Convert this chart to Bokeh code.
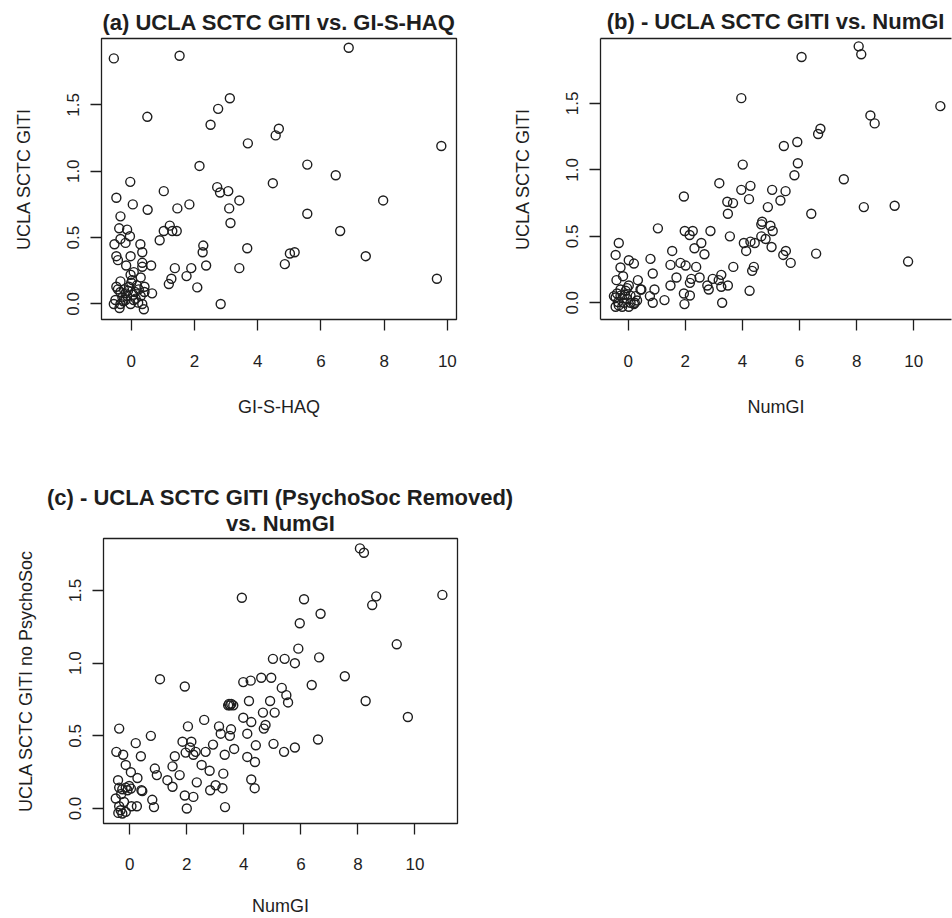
import math
from bokeh.plotting import figure
from bokeh.layouts import column, row
from bokeh.models import Range1d, FixedTicker, LinearAxis, Title, NumeralTickFormatter
from bokeh.embed import file_html
from bokeh.resources import INLINE

# ---------------- data ----------------
# (a) UCLA SCTC GITI vs. GI-S-HAQ
a_x = [-0.55, 1.53, 6.88, 3.12, 2.75, 0.51, 2.51, 4.67, 4.57, 3.69, 9.81, 2.16, 5.57, 6.47, 4.48,
       -0.03, 1.03, 2.72, 2.81, 3.07, 3.42, 7.97, -0.47, 0.05, 0.52, 1.46, 1.84, 3.10, 3.14, 5.57,
       6.61, -0.34, 1.22, 1.03, 1.30, 1.44, 0.90, -0.38, -0.13, -0.34, -0.04, -0.53, -0.18, 0.29,
       2.28, 2.26, 3.67, 0.35, -0.47, -0.02, -0.42, -0.16, 0.35, 0.35, 0.63, 2.37, 1.90, 1.38, 3.42,
       7.42, 5.02, 5.17, 4.86, 9.67, 1.75, 1.27, 1.19, 2.09, 2.83,
       -0.02, 0.08, 0.30, 0.03, -0.34, -0.47, 0.00, 0.42, 0.66, -0.34, -0.18, 0.06, 0.24, 0.42,
       -0.50, -0.34, -0.13, -0.02, 0.22, 0.35, 0.40, -0.37, -0.55, 0.14, -0.23, -0.07, 0.08, -0.18,
       -0.28, -0.10, 0.18, 0.30, -0.42, 0.12, -0.25]
a_y = [1.85, 1.87, 1.93, 1.55, 1.47, 1.41, 1.35, 1.32, 1.27, 1.21, 1.19, 1.04, 1.05, 0.97, 0.91,
       0.92, 0.85, 0.88, 0.84, 0.85, 0.78, 0.78, 0.80, 0.75, 0.71, 0.72, 0.75, 0.72, 0.61, 0.68,
       0.55, 0.66, 0.59, 0.55, 0.55, 0.55, 0.48, 0.57, 0.56, 0.49, 0.51, 0.45, 0.46, 0.45,
       0.44, 0.39, 0.42, 0.39, 0.36, 0.36, 0.33, 0.29, 0.31, 0.28, 0.29, 0.29, 0.27, 0.27, 0.27,
       0.36, 0.38, 0.39, 0.30, 0.19, 0.21, 0.19, 0.15, 0.125, 0.00,
       0.22, 0.24, 0.20, 0.18, 0.17, 0.13, 0.16, 0.13, 0.08, 0.09, 0.08, 0.07, 0.11, 0.09,
       0.03, 0.00, 0.06, 0.00, 0.01, 0.00, -0.04, -0.03, 0.00, 0.04, 0.11, 0.13, 0.03, 0.03,
       0.05, 0.10, 0.14, 0.06, 0.11, 0.09, 0.02]

# (b) UCLA SCTC GITI vs. NumGI
b_x = [6.07, 8.07, 8.16, 3.96, 10.93, 8.48, 8.63, 6.73, 6.65, 5.92, 5.45, 4.01, 5.94, 5.82, 7.55,
       3.19, 3.96, 4.28, 4.23, 5.04, 5.51, 5.33, 4.89, 8.25, 9.33, 3.47, 3.67, 3.49, 6.41, 1.95,
       1.04, 1.98, 2.15, 2.26, 2.88, 3.56, 2.56, 2.32, 2.67, 4.69, 4.66, 4.98, 5.06, 4.66, 4.81,
       5.02, 4.05, 4.28, 4.43, 4.13, 5.52, 5.43, 5.69, 6.58, 9.80, -0.33, -0.44, 0.02, 0.20, -0.27,
       -0.18, -0.41, 0.34, 0.78, 0.86, 1.54, 1.48, 1.83, 2.01, 2.38, 1.69, 2.21, 2.16, 2.50, 1.48,
       0.92, 0.76, 0.86, 1.27, 1.95, 2.16, 1.97, 2.77, 2.82, 2.96, 3.17, 3.26, 3.26, 3.49, 3.29,
       3.68, 4.25, 4.40, 4.34, 0.46, 0.26, 0.23,
       -0.44, -0.27, -0.09, -0.36, -0.21, -0.44, -0.04, 0.08, 0.20, 0.02, 0.31, 0.43, -0.04, -0.27,
       -0.15, -0.39, 0.02, -0.50, -0.33, 0.08, -0.12]
b_y = [1.85, 1.93, 1.87, 1.54, 1.48, 1.41, 1.35, 1.31, 1.27, 1.21, 1.18, 1.04, 1.05, 0.96, 0.93,
       0.90, 0.85, 0.88, 0.78, 0.85, 0.84, 0.77, 0.72, 0.72, 0.73, 0.76, 0.75, 0.67, 0.67, 0.80,
       0.56, 0.54, 0.51, 0.54, 0.54, 0.50, 0.45, 0.41, 0.365, 0.61, 0.59, 0.58, 0.54, 0.50, 0.48,
       0.42, 0.45, 0.46, 0.45, 0.39, 0.39, 0.36, 0.30, 0.37, 0.31, 0.45, 0.36, 0.32, 0.295, 0.265,
       0.20, 0.17, 0.17, 0.33, 0.22, 0.39, 0.285, 0.30, 0.28, 0.27, 0.19, 0.18, 0.15, 0.19, 0.13,
       0.10, 0.05, 0.00, 0.02, 0.07, 0.055, -0.01, 0.13, 0.10, 0.18, 0.17, 0.21, 0.12, 0.13, 0.00,
       0.27, 0.09, 0.27, 0.24, 0.10, 0.05, 0.00,
       0.04, 0.10, 0.09, 0.005, -0.03, -0.03, 0.03, 0.054, -0.01, -0.03, 0.017, 0.10, 0.11, 0.054,
       0.00, 0.07, 0.13, 0.05, -0.02, 0.00, 0.06]

# (c) UCLA SCTC GITI (PsychoSoc Removed) vs. NumGI
c_x = [8.07, 8.21, 3.93, 6.11, 10.96, 8.64, 8.50, 6.69, 5.96, 5.91, 9.36, 5.02, 5.43, 5.79, 6.64,
       7.54, 4.61, 4.96, 3.98, 4.24, 5.33, 6.38, 1.06, 1.93, 5.49, 5.55, 8.27, 9.75, 3.48, 3.52,
       3.56, 3.63, 3.45, 4.18, 4.92, 4.67, 5.08, 3.98, 4.26, 2.61, 3.13, 3.19, 3.51, 3.55, 4.12,
       4.76, 4.70, 2.04, 1.85, 2.16, 2.11, 1.96, 2.23, 2.31, 2.92, 3.66, 3.33, 2.66, 2.52, 2.80,
       1.50, 1.58, 1.75, 1.32, 1.50, 2.35, 2.82, 3.01, 3.25, 3.28, 1.93, 2.23, 2.00, 3.34, 4.39,
       4.12, 4.42, 4.26, 4.38, 5.04, 5.41, 5.79, 6.60, 0.74, 0.88, 0.95, 0.79, 0.85, 0.41, 0.39,
       0.21, 0.27, 0.04, -0.14, -0.23, -0.47, -0.37, -0.41,
       -0.37, -0.26, -0.14, -0.02, -0.08, 0.04, -0.49, -0.20, -0.37, -0.32, -0.14, -0.26, 0.06,
       0.25, 0.44, -0.30, -0.40]
c_y = [1.79, 1.76, 1.45, 1.44, 1.47, 1.46, 1.40, 1.34, 1.275, 1.10, 1.13, 1.03, 1.03, 1.00, 1.04,
       0.91, 0.90, 0.90, 0.87, 0.88, 0.83, 0.85, 0.89, 0.84, 0.78, 0.73, 0.74, 0.63, 0.72, 0.71,
       0.72, 0.71, 0.71, 0.74, 0.74, 0.66, 0.66, 0.625, 0.595, 0.61, 0.565, 0.515, 0.50, 0.545, 0.515,
       0.575, 0.55, 0.565, 0.46, 0.46, 0.42, 0.385, 0.37, 0.39, 0.44, 0.41, 0.37, 0.39, 0.30, 0.26,
       0.29, 0.36, 0.23, 0.195, 0.15, 0.18, 0.126, 0.16, 0.14, 0.24, 0.09, 0.08, 0.00, 0.01, 0.32,
       0.355, 0.435, 0.20, 0.14, 0.445, 0.39, 0.42, 0.475, 0.50, 0.275, 0.23, 0.06, 0.01, 0.126, 0.36,
       0.45, 0.21, 0.25, 0.30, 0.37, 0.39, 0.55, 0.195,
       0.144, 0.133, 0.144, 0.155, 0.126, 0.137, 0.069, 0.045, 0.016, -0.012, -0.023, -0.034, 0.016,
       0.016, 0.12, 0.10, -0.03]

x_ticks = [0, 2, 4, 6, 8, 10]
y_ticks = [0.0, 0.5, 1.0, 1.5]
y_tick_format = "0.0"

FONT = "Liberation Sans"
INK = "#1e1e1e"


def style_axis(ax, ticks, vertical=False, label_standoffs=(24, 27)):
    ax.ticker = FixedTicker(ticks=ticks, minor_ticks=[])
    ax.major_tick_out = 11
    ax.major_tick_in = 0
    ax.minor_tick_out = 0
    ax.minor_tick_in = 0
    ax.major_tick_line_color = INK
    ax.major_tick_line_width = 1.3
    ax.axis_line_color = None
    ax.major_label_text_font = FONT
    ax.major_label_text_font_size = "17px"
    ax.major_label_text_color = INK
    ax.axis_label_text_font = FONT
    ax.axis_label_text_font_size = "18px"
    ax.axis_label_text_font_style = "normal"
    ax.axis_label_text_color = INK
    if vertical:
        ax.formatter = NumeralTickFormatter(format=y_tick_format)
        ax.major_label_orientation = "parallel"
        ax.major_label_standoff = 11
        ax.axis_label_standoff = 31
    else:
        ax.major_label_standoff = label_standoffs[0]
        ax.axis_label_standoff = label_standoffs[1]


def panel(xs, ys, title_lines, title_standoffs, xlabel, ylabel, xr, yr, w, h, bl, br, bt, bb,
          open_right=False, x_standoffs=(24, 27)):
    p = figure(width=w, height=h, x_range=Range1d(*xr), y_range=Range1d(*yr),
               output_backend="svg", toolbar_location=None, title=None,
               min_border_left=bl, min_border_right=br, min_border_top=bt, min_border_bottom=bb,
               x_axis_label=xlabel, y_axis_label=ylabel)
    p.grid.visible = False
    p.background_fill_color = "white"
    p.border_fill_color = "white"
    style_axis(p.xaxis[0], x_ticks, label_standoffs=x_standoffs)
    style_axis(p.yaxis[0], y_ticks, vertical=True)
    if open_right:
        p.outline_line_color = None
        p.xaxis[0].axis_line_color = INK
        p.xaxis[0].axis_line_width = 1.3
        p.yaxis[0].axis_line_color = INK
        p.yaxis[0].axis_line_width = 1.3
        top = LinearAxis(ticker=FixedTicker(ticks=[], minor_ticks=[]), major_tick_out=0,
                         major_tick_in=0, minor_tick_out=0, minor_tick_in=0,
                         major_label_text_font_size="0px", axis_line_color=INK,
                         axis_line_width=1.3)
        p.add_layout(top, "above")
    else:
        p.outline_line_color = INK
        p.outline_line_width = 1.3
        p.outline_line_alpha = 1.0
    # titles closest to the frame are added first
    for line, so in zip(reversed(title_lines), title_standoffs):
        p.add_layout(Title(text=line, align="center", text_font=FONT, text_font_size="22px",
                           text_font_style="bold", text_color=INK, standoff=so), "above")
    p.scatter(xs, ys, marker="circle", size=9, fill_color=None, line_color=INK, line_width=1.4)
    return p


pa = panel(a_x, a_y, ["(a) UCLA SCTC GITI vs. GI-S-HAQ"], [8], "GI-S-HAQ", "UCLA SCTC GITI",
           (-0.94, 10.29), (-0.117, 2.0), 478, 437, 101, 22, 38, 115)
pb = panel(b_x, b_y, ["(b) - UCLA SCTC GITI vs. NumGI"], [10], "NumGI", "UCLA SCTC GITI",
           (-0.97, 11.32), (-0.126, 1.989), 474, 437, 122, 1, 35, 118, open_right=True)
pc = panel(c_x, c_y, ["(c) - UCLA SCTC GITI (PsychoSoc Removed)", "vs. NumGI"], [6, -9],
           "NumGI", "UCLA SCTC GITI no PsychoSoc",
           (-0.92, 11.49), (-0.103, 1.858), 520, 481, 103, 63, 101, 95,
           x_standoffs=(23, 23))

layout = column(row(pa, pb), pc)
open("out.html", "w").write(file_html(layout, INLINE))
